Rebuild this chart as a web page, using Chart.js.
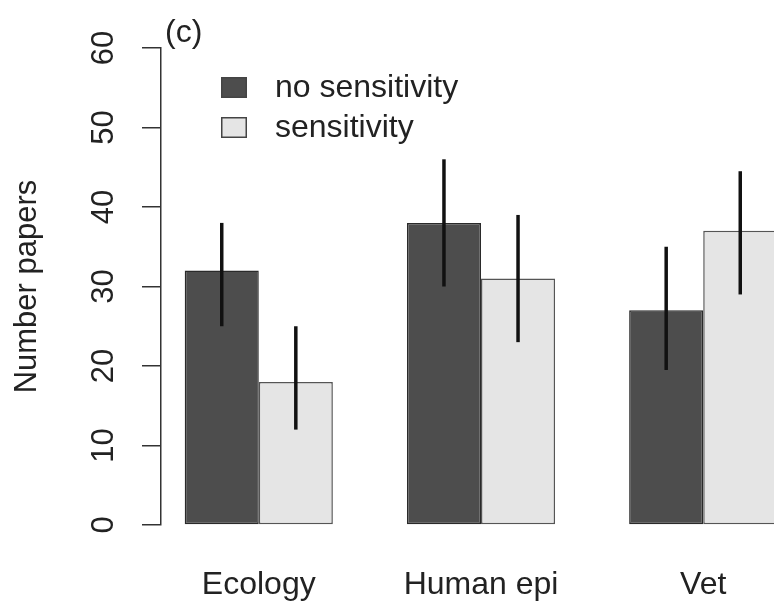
<!DOCTYPE html>
<html><head><meta charset="utf-8">
<script src="https://cdn.jsdelivr.net/npm/chart.js@4/dist/chart.umd.min.js"></script>
<style>
html,body{margin:0;padding:0;overflow:hidden;background:#fff;width:774px;height:601px}
#wrap{width:810px;height:601px;position:relative}
</style></head>
<body><div id="wrap"><canvas id="c"></canvas></div>
<script>
// ---- data ----
const categories = ['Ecology', 'Human epi', 'Vet'];
const seriesNames = ['no sensitivity', 'sensitivity'];
const noSensitivity = [32, 38, 27];
const sensitivity = [18, 31, 37];
const noSensLow = [25, 30, 19.5];
const noSensHigh = [38, 46, 35];
const sensLow = [12, 23, 29];
const sensHigh = [25, 39, 44.5];
const yTicks = [0, 10, 20, 30, 40, 50, 60];
const panelLabel = '(c)';
const yTitle = 'Number papers';

// group i occupies slots: 2 bars + 1 gap -> centre at 3*i+2
const groupX = i => 3 * i + 2;
const FONT = 'Liberation Sans, Arial, Helvetica, sans-serif';

const errorBars = {
  id: 'errorBars',
  afterDatasetsDraw(chart) {
    const ctx = chart.ctx, ys = chart.scales.y;
    chart.data.datasets.forEach((ds, di) => {
      const meta = chart.getDatasetMeta(di);
      meta.data.forEach((bar, i) => {
        ctx.save();
        ctx.strokeStyle = '#111';
        ctx.lineWidth = 3.5;
        ctx.beginPath();
        ctx.moveTo(bar.x, ys.getPixelForValue(ds.errLow[i]));
        ctx.lineTo(bar.x, ys.getPixelForValue(ds.errHigh[i]));
        ctx.stroke();
        ctx.restore();
      });
    });
  }
};

const insetLegend = {
  id: 'insetLegend',
  afterDraw(chart) {
    const ctx = chart.ctx, ca = chart.chartArea;
    ctx.save();
    chart.data.datasets.forEach((ds, i) => {
      const bx = ca.left + 60, by = ca.top + 29 + i * 40;
      ctx.fillStyle = ds.backgroundColor;
      ctx.fillRect(bx, by, 26, 21);
      ctx.strokeStyle = '#444';
      ctx.lineWidth = 1.5;
      ctx.strokeRect(bx + 0.75, by + 0.75, 24.5, 19.5);
      ctx.fillStyle = '#222';
      ctx.font = '32px ' + FONT;
      ctx.textBaseline = 'middle';
      ctx.textAlign = 'left';
      ctx.fillText(ds.label, bx + 54, by + 11);
    });
    ctx.font = '32px ' + FONT;
    ctx.fillStyle = '#222';
    ctx.textBaseline = 'alphabetic';
    ctx.fillText(panelLabel, ca.left + 4, 42);
    ctx.restore();
  }
};

new Chart(document.getElementById('c'), {
  type: 'bar',
  data: {
    datasets: [
      {
        label: seriesNames[0],
        data: categories.map((c, i) => ({x: groupX(i), y: noSensitivity[i]})),
        errLow: noSensLow, errHigh: noSensHigh,
        backgroundColor: '#4d4d4d', borderColor: '#2a2a2a'
      },
      {
        label: seriesNames[1],
        data: categories.map((c, i) => ({x: groupX(i), y: sensitivity[i]})),
        errLow: sensLow, errHigh: sensHigh,
        backgroundColor: '#e5e5e5', borderColor: '#555'
      }
    ]
  },
  options: {
    responsive: true,
    maintainAspectRatio: false,
    animation: false,
    barPercentage: 1,
    categoryPercentage: 2 / 3,
    datasets: { bar: { borderWidth: 1.5, borderSkipped: false } },
    layout: { padding: { left: 0, top: 48, right: 9, bottom: 0 } },
    plugins: { legend: { display: false }, tooltip: { enabled: false } },
    scales: {
      x: {
        type: 'linear',
        offset: false,
        min: 0.68, max: 9.32,
        afterBuildTicks: s => { s.ticks = categories.map((c, i) => ({value: groupX(i)})); },
        ticks: {
          autoSkip: false, minRotation: 0, maxRotation: 0, padding: 33,
          color: '#222', font: { family: FONT, size: 32 },
          callback: (v, idx) => categories[idx]
        },
        grid: { display: false, offset: false },
        border: { display: false },
        afterFit: s => { s.height = 76; }
      },
      y: {
        min: 0, max: 60,
        afterBuildTicks: s => { s.ticks = yTicks.map(v => ({value: v})); },
        ticks: {
          minRotation: 90, maxRotation: 90, crossAlign: 'center', padding: 20,
          color: '#222', font: { family: FONT, size: 31 }
        },
        grid: { drawOnChartArea: false, drawTicks: true, tickLength: 19, color: '#333', lineWidth: 1.5 },
        border: { display: true, color: '#333', width: 1.5 },
        title: { display: true, text: yTitle, color: '#222', font: { family: FONT, size: 31 }, padding: { top: 9, bottom: 0 } },
        afterFit: s => { s.width = 161; }
      }
    }
  },
  plugins: [errorBars, insetLegend]
});
</script>
</body></html>
